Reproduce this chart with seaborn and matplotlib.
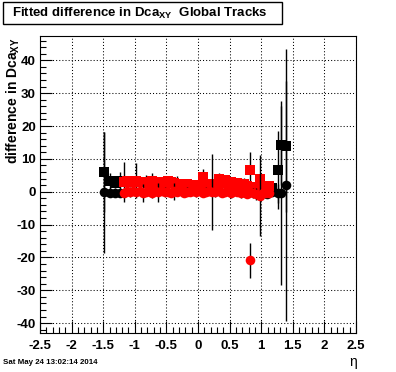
import numpy as np
import pandas as pd
import matplotlib
matplotlib.use("Agg")
import matplotlib.pyplot as plt
import seaborn as sns
from matplotlib.patches import Rectangle

# ---------------- data ----------------
black_sq_eta = [-1.49, -1.40, -1.31, -1.23, 0.93, 1.01, 1.09, 1.17, 1.26, 1.31, 1.39]
black_sq_val = [6.0, 3.3, 2.7, 3.2, 1.0, 1.5, 1.8, 1.2, 6.7, 14.1, 13.8]
black_sq_err = [12.3, 2.5, 1.5, 2.8, 1.5, 1.2, 1.5, 1.0, 11.9, 12.0, 20.0]

black_ci_eta = [-1.49, -1.40, -1.31, -1.23, 0.93, 1.01, 1.09, 1.17, 1.26, 1.31, 1.40]
black_ci_val = [-0.2, -0.4, -0.5, -0.3, -0.5, -0.3, -0.6, -0.2, -0.5, -0.4, 2.1]
black_ci_err = [18.3, 1.2, 1.0, 1.0, 1.0, 1.0, 1.2, 1.0, 3.0, 28.0, 41.3]

red_eta = [-1.175, -1.125, -1.075, -1.025, -0.975, -0.925, -0.875, -0.825,
           -0.775, -0.725, -0.675, -0.625, -0.575, -0.525, -0.475, -0.425,
           -0.375, -0.325, -0.275, -0.225, -0.175, -0.125, -0.075, -0.025,
           0.025, 0.075, 0.125, 0.175, 0.225, 0.275, 0.325, 0.375,
           0.425, 0.475, 0.525, 0.575, 0.625, 0.675, 0.725, 0.775,
           0.825, 0.875, 0.925, 0.975, 1.025, 1.075, 1.125]
red_sq_val = [3.0, 3.2, 3.1, 3.0, 3.3, 2.9, 3.0, 3.1,
              2.8, 3.2, 2.9, 2.7, 3.0, 2.6, 3.3, 2.9,
              2.6, 2.5, 2.3, 2.2, 2.5, 2.0, 2.1, 1.8,
              1.9, 4.4, 2.0, 2.2, 2.4, 2.3, 3.9, 2.8,
              3.6, 2.9, 3.0, 2.6, 2.7, 2.4, 2.5, 1.6,
              6.7, 1.5, 0.8, 3.8, 0.9, 1.2, 1.8]
red_sq_err = [6.2, 1.5, 1.8, 1.4, 5.3, 1.6, 1.3, 2.0,
              1.5, 2.5, 1.4, 1.8, 1.6, 2.2, 1.5, 1.7,
              1.4, 2.3, 1.3, 1.6, 1.5, 1.9, 1.4, 1.6,
              2.5, 2.5, 1.5, 1.8, 1.6, 1.4, 1.7, 2.0,
              1.5, 1.8, 1.6, 1.9, 1.5, 1.7, 1.6, 1.8,
              5.5, 1.6, 1.8, 1.5, 1.7, 1.5, 1.6]
red_ci_val = [-0.3, 0.1, -0.2, 0.2, -0.1, 0.3, -0.4, 0.0,
              0.2, -0.3, 0.1, -0.2, 0.3, -0.1, 0.0, -0.4,
              0.2, -0.2, 0.1, -0.3, 0.0, -0.1, 0.2, -0.2,
              0.1, -0.3, 0.0, 0.2, 0.0, -0.2, 0.1, -0.4,
              0.0, 0.2, -0.3, 0.1, -0.1, -0.5, -0.2, -0.6,
              -20.9, -0.4, -0.8, -1.2, -0.5, -0.3, -0.4]
red_ci_err = [1.2, 1.0, 1.4, 1.1, 1.3, 1.0, 2.8, 1.2,
              1.1, 1.5, 1.0, 2.9, 1.2, 1.4, 1.1, 1.3,
              2.6, 1.0, 1.2, 1.1, 1.3, 1.0, 1.2, 1.4,
              1.1, 1.0, 1.3, 1.2, 11.6, 1.4, 1.1, 1.3,
              1.2, 1.0, 1.5, 1.2, 1.1, 1.3, 1.4, 1.2,
              5.3, 1.5, 1.8, 12.3, 1.4, 1.2, 1.3]

x_tick_labels = ['-2.5', '-2', '-1.5', '-1', '-0.5', '0', '0.5', '1', '1.5', '2', '2.5']
y_tick_labels = ['-40', '-30', '-20', '-10', '0', '10', '20', '30', '40']

title_text = r'Fitted difference in Dca$_{\mathbf{XY}}$  Global Tracks'
y_title = r'difference in Dca$_{\mathbf{XY}}$'
x_title = 'η'
date_text = 'Sat May 24 13:02:14 2014'

# ---------------- style ----------------
sns.set_theme(style='white')
plt.rcParams['font.family'] = ['Liberation Sans', 'DejaVu Sans']
plt.rcParams['mathtext.fontset'] = 'custom'
plt.rcParams['mathtext.rm'] = 'Liberation Sans'
plt.rcParams['mathtext.bf'] = 'Liberation Sans:bold'
plt.rcParams['mathtext.it'] = 'Liberation Sans:italic'

W, H = 396, 372
fig = plt.figure(figsize=(W / 100, H / 100), dpi=100)
fig.patch.set_facecolor('white')
ax = fig.add_axes([40 / W, 39 / H, 316 / W, 297 / H])
ax.set_facecolor('white')


def draw(eta, val, err, color, marker, size, z):
    ax.errorbar(eta, val, yerr=err, fmt='none', ecolor='black',
                elinewidth=1.0, capsize=0, zorder=z)
    df = pd.DataFrame({'eta': eta, 'val': val})
    sns.scatterplot(data=df, x='eta', y='val', ax=ax, color=color,
                    marker=marker, s=size, linewidth=0, zorder=z + 0.5,
                    legend=False)


draw(black_sq_eta, black_sq_val, black_sq_err, 'black', 's', 52, 3)
draw(black_ci_eta, black_ci_val, black_ci_err, 'black', 'o', 48, 4)
draw(red_eta, red_sq_val, red_sq_err, '#ff0000', 's', 52, 5)
draw(red_eta, red_ci_val, red_ci_err, '#ff0000', 'o', 48, 6)

ax.set_xlim(-2.5, 2.5)
ax.set_ylim(-43.0, 47.4)

x_ticks = [float(s) for s in x_tick_labels]
y_ticks = [float(s) for s in y_tick_labels]
ax.set_xticks(x_ticks, x_tick_labels)
ax.set_yticks(y_ticks, y_tick_labels)
ax.set_xticks(np.arange(-2.5, 2.51, 0.1), minor=True)
ax.set_yticks(np.arange(-42, 47, 2), minor=True)

ax.tick_params(which='both', direction='in', top=False, right=False,
               left=True, bottom=True, color='black', width=0.8)
ax.tick_params(which='major', length=8.5)
ax.tick_params(which='minor', length=4)
ax.tick_params(axis='x', which='major', pad=5, labelsize=9.5)
ax.tick_params(axis='y', which='major', pad=3, labelsize=9.5)
for lab in ax.get_xticklabels() + ax.get_yticklabels():
    lab.set_fontweight('bold')
    lab.set_color('black')

ax.grid(True, which='major', color='black', linestyle=(0, (1, 2)), linewidth=0.75)
ax.set_axisbelow(True)
for sp in ax.spines.values():
    sp.set_color('black')
    sp.set_linewidth(0.8)
ax.set_xlabel('')
ax.set_ylabel('')

# title box
fig.add_artist(Rectangle((3 / W, 1 - 24 / H), 279 / W, 22 / H,
                         transform=fig.transFigure, facecolor='white',
                         edgecolor='black', linewidth=1.0))
fig.text(12 / W, 1 - 13 / H, title_text, ha='left', va='center',
         fontsize=9.5, fontweight='bold', color='black')

fig.text(13 / W, 1 - 37 / H, y_title, rotation=90, ha='center', va='top',
         fontsize=10, fontweight='bold', color='black')
fig.text(353 / W, 1 - 362 / H, x_title, ha='center', va='center',
         fontsize=10, color='black')
fig.text(3 / W, 1 - 363 / H, date_text, ha='left', va='center',
         fontsize=5.7, fontweight='bold', color='black')

fig.savefig('out.png', dpi=100)
